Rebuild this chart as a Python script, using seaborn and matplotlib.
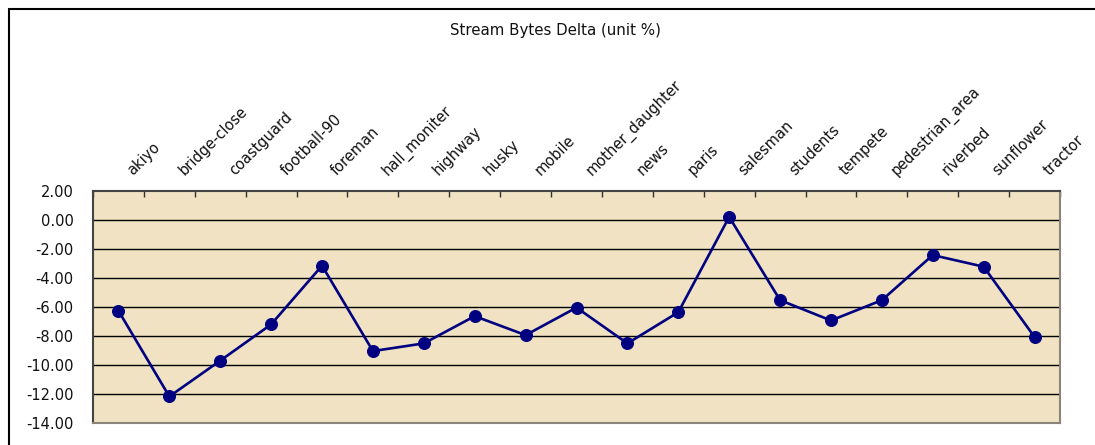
import matplotlib
matplotlib.use("Agg")
import matplotlib.pyplot as plt
from matplotlib.transforms import ScaledTranslation
from matplotlib.lines import Line2D
import seaborn as sns
import pandas as pd
import numpy as np

categories = ["akiyo", "bridge-close", "coastguard", "football-90", "foreman",
              "hall_moniter", "highway", "husky", "mobile", "mother_daughter",
              "news", "paris", "salesman", "students", "tempete",
              "pedestrian_area", "riverbed", "sunflower", "tractor"]
delta = [-6.26, -12.17, -9.70, -7.20, -3.15, -9.04, -8.51, -6.63, -7.94, -6.04,
         -8.51, -6.36, 0.21, -5.53, -6.93, -5.53, -2.42, -3.22, -8.07]
y_ticks = [2, 0, -2, -4, -6, -8, -10, -12, -14]
title = "Stream Bytes Delta (unit %)"

sns.set_theme(style="white")
plt.rcParams['font.family'] = ['DejaVu Sans']

df = pd.DataFrame({"pos": np.arange(len(categories)), "delta": delta})

fig = plt.figure(figsize=(10.95, 4.45), dpi=100)
ax = fig.add_axes([93/1095, 1-423/445, (1060-93)/1095, (423-191)/445])
ax.set_facecolor("#F0E2C2")

sns.lineplot(data=df, x="pos", y="delta", ax=ax, color="#000080", linewidth=1.9,
             marker="o", markersize=8.6, markeredgecolor="#000080", zorder=3)

ax.set_xlim(-0.5, len(categories) - 0.5)
ax.set_ylim(-14, 2)
ax.set_yticks(y_ticks)
ax.set_yticklabels([f"{v:.2f}" for v in y_ticks], fontsize=10.5, color="#111111")
for v in y_ticks[1:-1]:
    ax.axhline(v, color="black", linewidth=1.0, zorder=1)

ax.xaxis.tick_top()
ax.set_xticks(np.arange(len(categories)))
ax.set_xticklabels(categories, fontsize=10.5, color="#111111")
ax.set_xticks(np.arange(len(categories) + 1) - 0.5, minor=True)
ax.tick_params(axis="x", which="major", length=0, pad=11, top=True, bottom=False)
ax.tick_params(axis="x", which="minor", length=4, direction="in", top=True,
               bottom=False, color="#333333", width=1)
ax.tick_params(axis="y", length=0, pad=14)
off = ScaledTranslation(0.15, 0, fig.dpi_scale_trans)
for lbl in ax.get_xticklabels():
    lbl.set_rotation(45)
    lbl.set_ha("left")
    lbl.set_va("baseline")
    lbl.set_rotation_mode("anchor")
    lbl.set_transform(lbl.get_transform() + off)

ax.set_xlabel("")
ax.set_ylabel("")
for side in ["left", "top"]:
    ax.spines[side].set_color("#444444")
    ax.spines[side].set_linewidth(1.5)
for side in ["right", "bottom"]:
    ax.spines[side].set_color("#8a8578")
    ax.spines[side].set_linewidth(1.5)

fig.text(555/1095, 1-31/445, title, ha="center", va="center", fontsize=10.8, color="#111111")

# outer chart border (cropped at right and bottom)
fig.add_artist(Line2D([9/1095, 1.0], [1-9/445, 1-9/445], transform=fig.transFigure,
                      color="black", linewidth=1.5))
fig.add_artist(Line2D([9/1095, 9/1095], [0.0, 1-9/445], transform=fig.transFigure,
                      color="black", linewidth=1.5))

fig.savefig("out.png", dpi=100)
